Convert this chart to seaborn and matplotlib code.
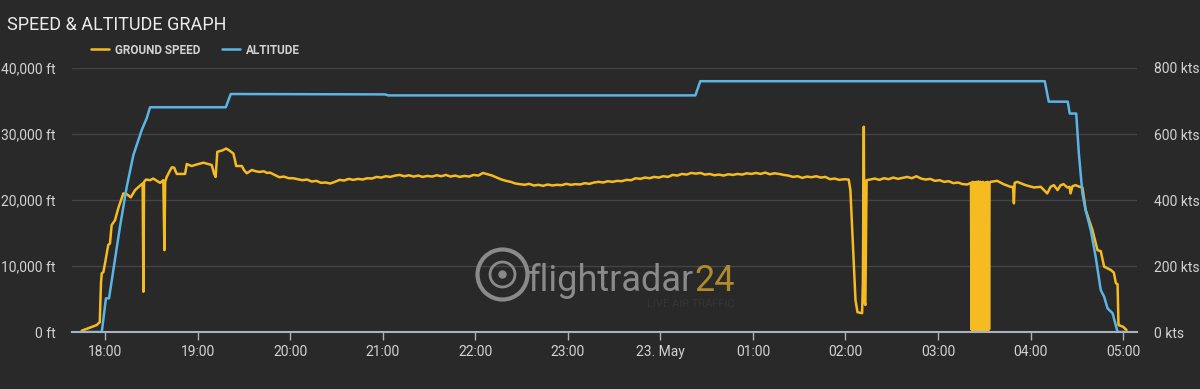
import pandas as pd
import matplotlib
matplotlib.use("Agg")
import matplotlib.pyplot as plt
import matplotlib.dates as mdates
from matplotlib.ticker import FuncFormatter
import seaborn as sns

# ---------------- data (minutes after 22 May 18:00) ----------------
speed_takeoff_min = [-15.1, -5.4, -3.4, -2.6, -2.1, -1.1, 0.0, 2.1, 3.2, 4.3,
                     6.5, 8.6, 11.9, 14.1, 16.7, 19.5, 23.8, 24.4, 24.9, 25.3,
                     26.6, 29.2, 31.3, 33.7, 35.7, 37.8, 38.5, 39.0, 40.0, 42.2,
                     43.3, 44.8, 46.5, 51.9, 53.0, 56.2, 59.7, 63.8, 69.2, 70.7,
                     71.7, 72.8, 75.9, 78.5, 80.0, 83.2, 84.3, 85.0, 88.7, 90.2,
                     91.9, 95.2]
speed_takeoff_kts = [4, 21, 30, 150, 178, 181, 208, 264, 268, 324,
                     339, 375, 420, 418, 408, 430, 448, 450, 122, 455,
                     462, 460, 465, 458, 452, 460, 248, 455, 470, 490,
                     499, 498, 479, 479, 509, 503, 508, 513, 506, 480,
                     470, 546, 550, 556, 552, 541, 520, 503, 503, 490,
                     481, 491]

speed_cruise_min = [97, 100, 103, 105, 107, 110, 113, 116, 119, 122,
                    125, 128, 131, 134, 137, 140, 143, 146, 149, 152,
                    155, 158, 161, 164, 167, 170, 173, 176, 179, 182,
                    185, 188, 191, 194, 197, 200, 203, 206, 209, 212,
                    215, 218, 221, 224, 227, 230, 233, 236, 239, 242,
                    245, 248, 251, 254, 257, 260, 263, 266, 269, 272,
                    275, 278, 281, 284, 287, 290, 293, 296, 299, 302,
                    305, 308, 311, 314, 317, 320, 323, 326, 329, 332,
                    335, 338, 341, 344, 347, 350, 353, 356, 359, 362,
                    365, 368, 371, 374, 377, 380, 383, 386, 389, 392,
                    395, 398, 401, 404, 407, 410, 413, 416, 419, 422,
                    425, 428, 431, 434, 437, 440, 443, 446, 449, 452,
                    455, 458, 461, 464, 467, 470, 473, 476, 479, 482.1,
                    483.2, 484.5, 486.5, 487.8, 490.8, 491.3, 491.9, 492.4, 492.9, 493.7,
                    496, 499, 502, 505, 508, 511, 514, 517, 520, 523,
                    526, 529, 532, 535, 538, 541, 544, 547, 550, 553,
                    556, 559, 561.4]
speed_cruise_kts = [488, 485, 487, 482, 483, 476, 469, 471, 466, 466,
                    463, 460, 462, 456, 458, 452, 453, 450, 455, 461,
                    459, 464, 461, 464, 462, 466, 465, 470, 468, 472,
                    470, 474, 476, 472, 475, 471, 474, 470, 473, 471,
                    475, 472, 476, 471, 474, 470, 473, 471, 476, 474,
                    482, 478, 474, 468, 462, 458, 455, 450, 448, 446,
                    449, 444, 446, 443, 447, 444, 446, 445, 449, 446,
                    448, 447, 451, 449, 453, 455, 453, 457, 455, 458,
                    457, 461, 460, 466, 464, 468, 466, 470, 468, 472,
                    470, 476, 474, 479, 477, 482, 480, 482, 477, 479,
                    475, 477, 474, 478, 476, 479, 477, 481, 479, 482,
                    479, 483, 478, 481, 479, 476, 474, 470, 472, 467,
                    471, 469, 472, 468, 470, 463, 465, 461, 463, 462,
                    430, 300, 97, 60, 57, 150, 622, 90, 82, 460,
                    462, 465, 461, 466, 463, 468, 464, 467, 470, 466,
                    472, 465, 462, 464, 458, 460, 455, 457, 451, 453,
                    448, 447, 452]

speed_glitch_min = [561.7, 562.0, 562.3, 562.6, 562.9, 563.2, 563.5, 563.8, 564.1, 564.4,
                    564.7, 565.0, 565.3, 565.6, 565.9, 566.2, 566.5, 566.8, 567.1, 567.4,
                    567.7, 568.0, 568.3, 568.6, 568.9, 569.2, 569.5, 569.8, 570.1, 570.4,
                    570.7, 571.0, 571.3, 571.6, 571.9, 572.2, 572.5, 572.8, 573.1, 573.4]
speed_glitch_kts = [8, 452, 6, 455, 10, 450, 6, 454, 8, 452,
                    30, 455, 6, 450, 8, 456, 6, 452, 12, 455,
                    6, 450, 8, 453, 6, 455, 60, 452, 6, 450,
                    8, 454, 6, 452, 10, 455, 6, 450, 8, 452]

speed_descent_min = [574.0, 578.4, 582.5, 587.0, 588.6, 589.2, 589.7, 591.4, 596.8, 602.2,
                     606.6, 610.8, 613.0, 615.1, 617.5, 619.5, 621.4, 623.8, 625.3, 625.9,
                     627.2, 629.2, 631.8, 633.6, 635.7, 637.9, 640.1, 643.4, 645.5, 647.7,
                     652.0, 654.0, 655.3, 656.4, 657.0, 660.0, 662.2]
speed_descent_kts = [455, 458, 448, 440, 440, 390, 452, 455, 445, 438,
                     440, 420, 440, 445, 430, 445, 448, 438, 440, 420,
                     442, 445, 440, 438, 370, 339, 309, 248, 245, 198,
                     188, 180, 148, 145, 21, 16, 6]

alt_min = [-15.1, -2.1, 0.6, 2.6, 5.4, 9.7, 14.1, 18.4, 23.8, 27.0, 29.2, 78.3, 81.5, 181.6,
           183.6, 382.7, 385.9, 609.2, 611.8, 624.1, 625.4, 629.6, 631.3, 633.6, 635.7, 639.0,
           642.2, 645.5, 647.7, 649.9, 653.2, 656.4, 661.7]
alt_ft = [0, 0, 5100, 5100, 9390, 15950, 22010, 26820, 30600, 32370, 34050, 34050, 36060, 36000,
          35850, 35850, 38000, 38000, 34900, 34900, 33100, 33100, 27080, 21010, 18480, 15450,
          11410, 6360, 5350, 3590, 2830, 0, 0]

alt_ticks = [0, 10000, 20000, 30000, 40000]
speed_ticks = [0, 200, 400, 600, 800]
title_text = "SPEED & ALTITUDE GRAPH"
legend_labels = ["GROUND SPEED", "ALTITUDE"]

# ---------------- styling ----------------
BG = "#292929"
GRID = "#444444"
AXIS = "#a6b2c2"
TXT = "#d2d2d2"
ORANGE = "#f7bb22"
BLUE = "#5ab5e6"

base = pd.Timestamp("2024-05-22 18:00")
all_speed_min = speed_takeoff_min + speed_cruise_min + speed_glitch_min + speed_descent_min
all_speed_kts = speed_takeoff_kts + speed_cruise_kts + speed_glitch_kts + speed_descent_kts
speed_df = pd.DataFrame({
    "time": base + pd.to_timedelta(all_speed_min, unit="min"),
    "kts": all_speed_kts,
})
alt_df = pd.DataFrame({"time": base + pd.to_timedelta(alt_min, unit="min"), "ft": alt_ft})

sns.set_theme(style="dark")
plt.rcParams["font.family"] = ["Roboto", "DejaVu Sans"]

fig = plt.figure(figsize=(12, 3.89), dpi=100, facecolor=BG)
ax = fig.add_axes([0.06, 0.1465, 0.8875, 0.6787])
ax2 = ax.twinx()
ax.set_zorder(ax2.get_zorder() + 1)
ax.patch.set_visible(False)
ax2.set_facecolor(BG)

sns.lineplot(data=speed_df, x="time", y="kts", ax=ax2, color=ORANGE, linewidth=1.8,
             estimator=None, sort=False)
sns.lineplot(data=alt_df, x="time", y="ft", ax=ax, color=BLUE, linewidth=1.8,
             estimator=None, sort=False)

ax.set_xlim(base + pd.Timedelta(minutes=-21.4), base + pd.Timedelta(minutes=669))
ax.set_ylim(0, 40000)
ax2.set_ylim(0, 800)
for a in (ax, ax2):
    a.set_xlabel("")
    a.set_ylabel("")
    for s in a.spines.values():
        s.set_visible(False)

ax.spines["bottom"].set_visible(True)
ax.spines["bottom"].set_color(AXIS)
ax.spines["bottom"].set_linewidth(1.5)

ax.xaxis.set_major_locator(mdates.HourLocator())


def fmt_time(v, pos):
    d = mdates.num2date(v)
    if d.hour == 0:
        return f"{d.day}. {d.strftime('%b')}"
    return d.strftime("%H:%M")


ax.xaxis.set_major_formatter(FuncFormatter(fmt_time))
ax.set_yticks(alt_ticks)
ax.set_yticklabels([f"{v:,} ft" for v in alt_ticks])
ax2.set_yticks(speed_ticks)
ax2.set_yticklabels([f"{v} kts" for v in speed_ticks])

ax.tick_params(axis="x", direction="out", length=6, width=1, color=AXIS,
               labelcolor=TXT, labelsize=10, pad=3, bottom=True)
ax.tick_params(axis="y", length=0, pad=12, labelcolor=TXT, labelsize=10)
ax2.tick_params(axis="y", length=0, pad=12, labelcolor=TXT, labelsize=10)
ax2.tick_params(axis="x", length=0)

ax.grid(False)
ax2.grid(True, axis="both", color=GRID, linewidth=1)
ax2.set_axisbelow(True)

# watermark
wm_grey = "#8a8a8a"
ax2.plot([0.4038], [0.2197], marker="o", ms=36, mfc="none", mec=wm_grey, mew=3,
         transform=ax2.transAxes, zorder=1.5, clip_on=False)
ax2.plot([0.4038], [0.2197], marker="o", ms=18, mfc="none", mec=wm_grey, mew=2,
         transform=ax2.transAxes, zorder=1.5, clip_on=False)
ax2.plot([0.4038], [0.2197], marker="o", ms=5, mfc=wm_grey, mec=wm_grey,
         transform=ax2.transAxes, zorder=1.5, clip_on=False)
t1 = ax2.text(0.4282, 0.155, "flightradar", transform=ax2.transAxes, fontsize=26,
              color=wm_grey, ha="left", va="baseline", zorder=1.5)
t2 = ax2.annotate("24", xy=(1, 0.155), xycoords=(t1, "axes fraction"), fontsize=26,
                  color="#b08a2c", ha="left", va="baseline", zorder=1.5)
ax2.annotate("LIVE AIR TRAFFIC", xy=(1, 0.105), xycoords=(t2, "axes fraction"), fontsize=8,
             color="#353535", ha="right", va="center", zorder=1.5)

# title and legend
fig.text(0.006, 1 - 25 / 389, title_text, fontsize=13, color="#ececec", ha="left", va="center")
handles = [ax2.lines[0], ax.lines[0]]
leg = fig.legend(handles=handles, labels=legend_labels, loc="center left",
                 bbox_to_anchor=(91 / 1200, 1 - 50 / 389), ncol=2, frameon=False,
                 borderpad=0, borderaxespad=0, handlelength=1.5, handletextpad=0.5,
                 columnspacing=1.9, prop={"size": 8.5, "weight": "bold"})
for t in leg.get_texts():
    t.set_color(TXT)

fig.savefig("out.png", dpi=100, facecolor=BG)
